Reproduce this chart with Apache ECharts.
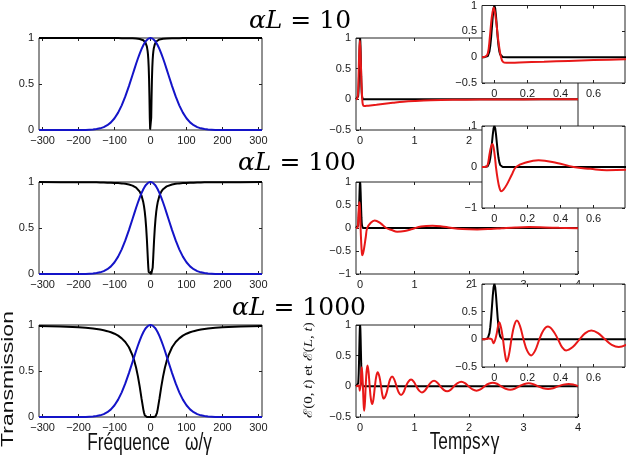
<!DOCTYPE html>
<html>
<head>
<meta charset="utf-8">
<script src="https://cdn.jsdelivr.net/npm/echarts@6/dist/echarts.min.js"></script>
<style>
html, body { margin: 0; padding: 0; background: #fff; }
#chart { width: 632px; height: 457px; }
</style>
</head>
<body>
<div id="chart"></div>
<script>
const freqHalf = [0, 1, 2, 3, 4, 5, 6, 7, 8, 9, 10, 12, 14, 16, 18, 20, 25, 30, 35, 40, 45, 50,
  60, 70, 80, 90, 100, 110, 120, 130, 140, 150, 160, 180, 200, 250, 310];
const spectrumHalf = [1, 1, 0.999, 0.998, 0.997, 0.995, 0.993, 0.99, 0.987, 0.983, 0.98, 0.971, 0.96, 0.949, 0.936, 0.921, 0.879, 0.831, 0.777, 0.72, 0.659, 0.598,
  0.477, 0.365, 0.268, 0.189, 0.128, 0.083, 0.052, 0.031, 0.018, 0.01, 0.005, 0.001, 0, 0, 0];
const trans10Half = [0, 0.007, 0.135, 0.368, 0.555, 0.681, 0.763, 0.819, 0.857, 0.885, 0.906, 0.933, 0.95, 0.962, 0.97, 0.975, 0.984, 0.989, 0.992, 0.994, 0.995, 0.996,
  0.997, 0.998, 0.998, 0.999, 0.999, 0.999, 0.999, 1, 1, 1, 1, 1, 1, 1, 1];
const trans100Half = [0, 0, 0, 0, 0.003, 0.021, 0.067, 0.135, 0.215, 0.295, 0.372, 0.502, 0.602, 0.678, 0.735, 0.779, 0.852, 0.895, 0.922, 0.939, 0.952, 0.961,
  0.973, 0.98, 0.985, 0.988, 0.99, 0.992, 0.993, 0.994, 0.995, 0.996, 0.996, 0.997, 0.998, 0.998, 0.999];
const trans1000Half = [0, 0, 0, 0, 0, 0, 0, 0, 0, 0, 0, 0.001, 0.006, 0.02, 0.046, 0.083, 0.202, 0.33, 0.442, 0.535, 0.61, 0.67,
  0.758, 0.815, 0.855, 0.884, 0.905, 0.921, 0.933, 0.943, 0.95, 0.957, 0.962, 0.97, 0.975, 0.984, 0.99];

// --- time signals, right column
const tPulse = [-0.075, -0.06, -0.05, -0.04, -0.035, -0.03, -0.025, -0.02, -0.015, -0.01, -0.005, 0,
  0.005, 0.01, 0.015, 0.02, 0.025, 0.03, 0.035, 0.04, 0.05, 0.06, 0.08, 4];
const ePulse = [0, 0, 0.002, 0.02, 0.051, 0.112, 0.219, 0.378, 0.579, 0.784, 0.941, 1,
  0.941, 0.784, 0.579, 0.378, 0.219, 0.112, 0.051, 0.02, 0.002, 0, 0, 0];

const tOut10 = [-0.075, -0.055, -0.04, -0.028, -0.016, -0.004, 0.01, 0.024, 0.04, 0.052, 0.072,
  0.15, 0.3, 0.45, 0.6, 0.79, 1.0, 1.3, 1.7, 2.2, 3.0, 4.0];
const eOut10 = [0, 0.01, 0.07, 0.37, 0.77, 0.96, 0.71, 0.31, 0, -0.09, -0.11,
  -0.103, -0.088, -0.072, -0.057, -0.04, -0.028, -0.016, -0.008, -0.004, -0.001, 0];

const tOut100 = [-0.075, -0.05, -0.04, -0.03, -0.02, -0.012, -0.005, 0.003, 0.01, 0.02, 0.03, 0.041, 0.055, 0.075, 0.105, 0.131,
  0.196, 0.267, 0.378, 0.479, 0.58, 0.68, 0.82, 0.96, 1.12, 1.33, 1.5, 1.66, 1.88, 2.15, 2.4, 2.6, 2.85, 3.1, 3.4, 3.65, 4.0];
const eOut100 = [0, 0.005, 0.06, 0.3, 0.5, 0.56, 0.48, 0.25, -0.02, -0.3, -0.5, -0.59, -0.55, -0.43, -0.19, 0,
  0.115, 0.165, 0.1, 0, -0.045, -0.08, -0.065, -0.02, 0.035, 0.05, 0.035, 0.005, -0.022, -0.03, -0.02, -0.005, 0.012, 0.02, 0.012, 0.003, -0.008];

const tOut1000 = [-0.075, -0.05, -0.036, -0.016, -0.006, 0.01, 0.03, 0.041, 0.052, 0.063,
  0.075, 0.088, 0.103, 0.119, 0.136, 0.155, 0.176, 0.198, 0.222, 0.246,
  0.272, 0.297, 0.323, 0.353, 0.385, 0.409, 0.434, 0.474, 0.515, 0.55,
  0.586, 0.627, 0.669, 0.71, 0.752, 0.796, 0.84, 0.887, 0.935, 0.984,
  1.033, 1.084, 1.136, 1.189, 1.244, 1.3, 1.357, 1.414, 1.473, 1.535,
  1.598, 1.66, 1.723, 1.79, 1.858, 1.925, 1.992, 2.064, 2.137, 2.209,
  2.282, 2.359, 2.437, 2.513, 2.59, 2.672, 2.756, 2.837, 2.919, 3.006,
  3.094, 3.18, 3.267, 3.359, 3.452, 3.543, 3.635, 3.732, 3.83, 3.92, 4.0];
const eOut1000 = [0, 0.005, 0.015, 0, -0.07, 0.05, 0.31, 0.2, 0, -0.25,
  -0.4, -0.28, 0, 0.24, 0.34, 0.24, 0, -0.205, -0.29, -0.205,
  0, 0.163, 0.23, 0.163, 0, -0.14, -0.2, -0.14, 0, 0.113,
  0.16, 0.113, 0, -0.1, -0.14, -0.1, 0, 0.078, 0.11, 0.078,
  0, -0.07, -0.1, -0.07, 0, 0.064, 0.09, 0.064, 0, -0.057,
  -0.08, -0.057, 0, 0.053, 0.075, 0.053, 0, -0.05, -0.07, -0.05,
  0, 0.042, 0.06, 0.042, 0, -0.039, -0.055, -0.039, 0, 0.035,
  0.05, 0.035, 0, -0.032, -0.045, -0.032, 0, 0.028, 0.04, 0.028, 0.004];

// tick labels
const freqTicks = [-300, -200, -100, 0, 100, 200, 300];
const timeTicks = [0, 1, 2, 3, 4];
const zoomTicks = [0, 0.2, 0.4, 0.6];

const BLUE = '#1414c8', RED = '#e81818', BLACK = '#000';

const mirrorX = h => h.slice(1).reverse().map(v => -v).concat(h);
const mirrorY = h => h.slice(1).reverse().concat(h);
const freq = mirrorX(freqHalf);

const panels = [
  // left: transmission
  { box: [39, 38, 223, 92], x: [-310, 310], y: [0, 1], yStep: 0.5, xTicks: freqTicks,
    lines: [[freq, mirrorY(trans10Half), BLACK], [freq, mirrorY(spectrumHalf), BLUE]] },
  { box: [39, 182, 223, 92], x: [-310, 310], y: [0, 1], yStep: 0.5, xTicks: freqTicks,
    lines: [[freq, mirrorY(trans100Half), BLACK], [freq, mirrorY(spectrumHalf), BLUE]] },
  { box: [39, 325, 223, 92], x: [-310, 310], y: [0, 1], yStep: 0.5, xTicks: freqTicks,
    lines: [[freq, mirrorY(trans1000Half), BLACK], [freq, mirrorY(spectrumHalf), BLUE]] },
  // right: fields vs time
  { box: [356, 38, 222, 92], x: [-0.075, 4], y: [-0.5, 1], yStep: 0.5, xTicks: timeTicks,
    lines: [[tPulse, ePulse, BLACK], [tOut10, eOut10, RED]] },
  { box: [356, 182, 222, 92], x: [-0.075, 4], y: [-1, 1], yStep: 0.5, xTicks: timeTicks,
    lines: [[tPulse, ePulse, BLACK], [tOut100, eOut100, RED]] },
  { box: [356, 325, 222, 92], x: [-0.075, 4], y: [-0.5, 1], yStep: 0.5, xTicks: timeTicks,
    lines: [[tPulse, ePulse, BLACK], [tOut1000, eOut1000, RED]] },
  // insets (zoom on the start)
  { inset: true, box: [482, 2, 143, 81], x: [-0.075, 0.79], y: [-0.5, 1], yStep: 0.5, xTicks: zoomTicks,
    lines: [[tPulse, ePulse, BLACK], [tOut10, eOut10, RED]] },
  { inset: true, box: [482, 126, 143, 82], x: [-0.075, 0.79], y: [-1, 1], yStep: 1, xTicks: zoomTicks,
    lines: [[tPulse, ePulse, BLACK], [tOut100, eOut100, RED]] },
  { inset: true, box: [482, 284, 143, 83], x: [-0.075, 0.79], y: [-0.5, 1], yStep: 0.5, xTicks: zoomTicks,
    lines: [[tPulse, ePulse, BLACK], [tOut1000, eOut1000, RED]] }
];

const grids = [], xAxes = [], yAxes = [], series = [];
const fmt = v => String(v).replace('-', '\u2212');
const labelStyle = { fontSize: 11, color: '#1a1a1a', fontFamily: 'Liberation Sans', formatter: fmt, margin: 5 };

panels.forEach((p, i) => {
  const z = p.inset ? 5 : 0;
  grids.push({ left: p.box[0], top: p.box[1], width: p.box[2], height: p.box[3], show: true,
    backgroundColor: '#fff', borderColor: '#222', borderWidth: 1, z: z });
  const tick = { show: true, inside: true, length: 3, lineStyle: { color: '#222', width: 1 } };
  ['bottom', 'top'].forEach((pos, k) => {
    xAxes.push({ type: 'value', gridIndex: i, position: pos, min: p.x[0], max: p.x[1], z: z + 1,
      axisLine: { show: false, onZero: false }, splitLine: { show: false },
      axisTick: Object.assign({ customValues: p.xTicks }, tick),
      axisLabel: Object.assign({ show: k === 0, customValues: p.xTicks }, labelStyle) });
  });
  ['left', 'right'].forEach((pos, k) => {
    yAxes.push({ type: 'value', gridIndex: i, position: pos, min: p.y[0], max: p.y[1], interval: p.yStep, z: z + 1,
      axisLine: { show: false, onZero: false }, splitLine: { show: false },
      axisTick: tick,
      axisLabel: Object.assign({ show: k === 0 }, labelStyle) });
  });
  p.lines.forEach(([xs, ys, color]) => {
    series.push({ type: 'line', xAxisIndex: 2 * i, yAxisIndex: 2 * i, z: z + 2,
      data: xs.map((x, j) => [x, ys[j]]), showSymbol: false, silent: true,
      smooth: color === RED ? 0.4 : false,
      lineStyle: { color: color, width: 2 }, itemStyle: { color: color } });
  });
});

function title(n, cx, cy) {
  return { type: 'text', x: cx, y: cy, z: 50,
    style: { text: '{m|\u03b1L}{r| = ' + n + '}', align: 'center', verticalAlign: 'middle', fill: '#000',
      rich: { m: { fontFamily: 'DejaVu Serif', fontStyle: 'italic', fontSize: 25 },
              r: { fontFamily: 'DejaVu Serif', fontSize: 25 } } } };
}

const sans23 = { fontFamily: 'Liberation Sans', fontSize: 23, fill: '#111', align: 'center', verticalAlign: 'middle' };

const graphic = [
  title('10', 300, 21), title('100', 297, 163), title('1000', 299, 308),
  { type: 'text', x: 8.5, y: 379, rotation: Math.PI / 2, scaleY: 0.75, z: 50,
    style: Object.assign({ text: 'Transmission' }, sans23) },
  { type: 'text', x: 128.5, y: 444, scaleX: 0.75, z: 50, style: Object.assign({ text: 'Fréquence' }, sans23) },
  { type: 'text', x: 198.5, y: 444, scaleX: 0.75, z: 50, style: Object.assign({ text: '\u03c9/\u03b3' }, sans23) },
  { type: 'text', x: 464.5, y: 443, scaleX: 0.75, z: 50, style: Object.assign({ text: 'Temps\u00d7\u03b3' }, sans23) },
  { type: 'text', x: 308.5, y: 370, rotation: Math.PI / 2, scaleY: 0.8, z: 50,
    style: { text: '{c|\u2130}(0, {i|t}) et {c|\u2130}({i|L}, {i|t})', align: 'center', verticalAlign: 'middle',
      fill: '#111', fontFamily: 'Liberation Serif', fontSize: 15,
      rich: { c: { fontFamily: 'DejaVu Serif', fontSize: 15 }, i: { fontFamily: 'Liberation Serif', fontStyle: 'italic', fontSize: 15 } } } }
];

const chart = echarts.init(document.getElementById('chart'));
chart.setOption({
  animation: false,
  backgroundColor: '#fff',
  grid: grids,
  xAxis: xAxes,
  yAxis: yAxes,
  series: series,
  graphic: graphic
});
</script>
</body>
</html>
